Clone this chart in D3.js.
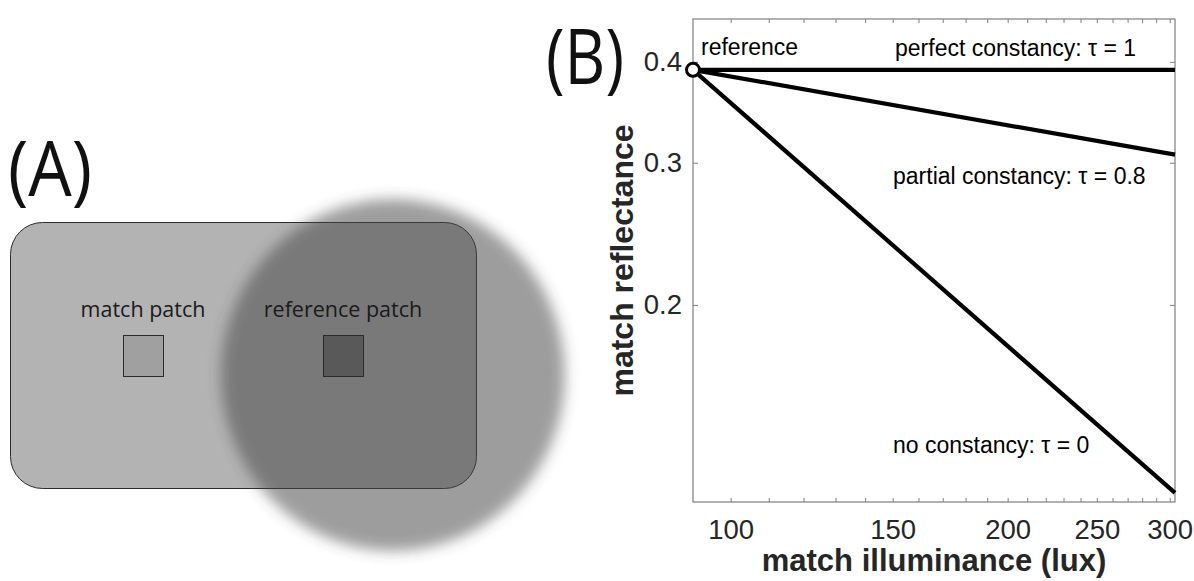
<!DOCTYPE html>
<html>
<head>
<meta charset="utf-8">
<script src="https://cdn.jsdelivr.net/npm/d3@7"></script>
<style>
  html, body { margin: 0; padding: 0; background: #fff; }
  svg { display: block; }
</style>
</head>
<body>
<svg id="fig" width="1194" height="581"></svg>
<script>
// Match illuminance (lux) at the two ends of each prediction line
const illuminance = [91, 304];
// Predicted match reflectance for each degree of constancy
const perfectConstancy = [0.391, 0.391];   // tau = 1
const partialConstancy = [0.391, 0.307];   // tau = 0.8
const noConstancy      = [0.391, 0.117];   // tau = 0
// The reference setting
const referencePoint = [91, 0.391];

const xDomain = [91, 304];
const yDomain = [0.114, 0.452];
const xTickValues = [100, 150, 200, 250, 300];
const xMinorTicks = [110, 120, 130, 140, 160, 170, 180, 190, 210, 220, 230, 240, 260, 270, 280, 290];
const yTickValues = [0.2, 0.3, 0.4];

const lineLabels = [
  { text: "perfect constancy: \u03c4 = 1",   x: 895, y: 56 },
  { text: "partial constancy: \u03c4 = 0.8", x: 893, y: 184 },
  { text: "no constancy: \u03c4 = 0",        x: 893, y: 453 }
];

const svg = d3.select("#fig");
const plotFont = "'Liberation Sans', Arial, Helvetica, sans-serif";
const sketchFont = "'Open Sans', 'Noto Sans', sans-serif";

/* ---------- Panel A: the display layout ---------- */
const defs = svg.append("defs");
defs.append("filter")
  .attr("id", "soft")
  .attr("x", "-20%").attr("y", "-20%").attr("width", "140%").attr("height", "140%")
  .append("feGaussianBlur").attr("stdDeviation", 7);

const panelA = svg.append("g");

panelA.append("text")
  .attr("x", 8).attr("y", 196)
  .attr("textLength", 84).attr("lengthAdjust", "spacingAndGlyphs")
  .style("font-family", sketchFont).style("font-size", "76px")
  .attr("fill", "#111").text("(A)");

panelA.append("rect")
  .attr("x", 10.5).attr("y", 222.5).attr("width", 466).attr("height", 266)
  .attr("rx", 32).attr("ry", 32)
  .attr("fill", "#b3b3b3").attr("stroke", "#2b2b2b").attr("stroke-width", 1);

// shadow cast over the reference side
panelA.append("ellipse")
  .attr("cx", 393).attr("cy", 375).attr("rx", 172).attr("ry", 176)
  .attr("fill", "rgb(71,71,71)").attr("fill-opacity", 0.526)
  .attr("filter", "url(#soft)");

panelA.append("rect")
  .attr("x", 123.5).attr("y", 335.5).attr("width", 40).attr("height", 41)
  .attr("fill", "#a0a0a0").attr("stroke", "#2b2b2b").attr("stroke-width", 1);
panelA.append("rect")
  .attr("x", 323.5).attr("y", 335.5).attr("width", 40).attr("height", 41)
  .attr("fill", "#595959").attr("stroke", "#2b2b2b").attr("stroke-width", 1);

panelA.append("text")
  .attr("x", 143).attr("y", 317).attr("text-anchor", "middle")
  .style("font-family", sketchFont).style("font-size", "21.5px")
  .attr("fill", "#1a1a1a").text("match patch");
panelA.append("text")
  .attr("x", 343).attr("y", 317).attr("text-anchor", "middle")
  .style("font-family", sketchFont).style("font-size", "21.5px")
  .attr("fill", "#1a1a1a").text("reference patch");

/* ---------- Panel B: predicted matches ---------- */
const plot = { left: 693, right: 1175, top: 19, bottom: 502 };

const x = d3.scaleLog().domain(xDomain).range([plot.left, plot.right]);
const y = d3.scaleLog().domain(yDomain).range([plot.bottom, plot.top]);

svg.append("text")
  .attr("x", 546).attr("y", 84)
  .attr("textLength", 78).attr("lengthAdjust", "spacingAndGlyphs")
  .style("font-family", sketchFont).style("font-size", "76px")
  .attr("fill", "#111").text("(B)");

const axisColor = "#7f7f7f";
const tickText = "#262626";

function styleAxis(g, showLabels) {
  g.select(".domain").remove();
  g.selectAll(".tick line").attr("stroke", axisColor);
  g.selectAll(".tick text")
    .style("font-family", plotFont).style("font-size", "27.5px")
    .attr("fill", tickText);
  if (!showLabels) g.selectAll(".tick text").remove();
}

// bottom axis: labelled and minor ticks, pointing inward
svg.append("g")
  .attr("transform", `translate(0,${plot.bottom})`)
  .call(d3.axisBottom(x).tickValues(xTickValues).tickFormat(d3.format("d"))
        .tickSizeInner(-4).tickSizeOuter(0).tickPadding(17))
  .call(g => styleAxis(g, true));
svg.append("g")
  .attr("transform", `translate(0,${plot.bottom})`)
  .call(d3.axisBottom(x).tickValues(xMinorTicks).tickSizeInner(-4).tickSizeOuter(0))
  .call(g => styleAxis(g, false));

// top axis mirrors the bottom ticks
svg.append("g")
  .attr("transform", `translate(0,${plot.top})`)
  .call(d3.axisTop(x).tickValues(xTickValues.concat(xMinorTicks)).tickSizeInner(-4).tickSizeOuter(0))
  .call(g => styleAxis(g, false));

// left axis
svg.append("g")
  .attr("transform", `translate(${plot.left},0)`)
  .call(d3.axisLeft(y).tickValues(yTickValues).tickFormat(d3.format(".1f"))
        .tickSizeInner(-5).tickSizeOuter(0).tickPadding(11))
  .call(g => styleAxis(g, true));

// right axis mirrors the left ticks
svg.append("g")
  .attr("transform", `translate(${plot.right},0)`)
  .call(d3.axisRight(y).tickValues(yTickValues).tickSizeInner(-5).tickSizeOuter(0))
  .call(g => styleAxis(g, false));

// box
svg.append("rect")
  .attr("x", plot.left).attr("y", plot.top)
  .attr("width", plot.right - plot.left).attr("height", plot.bottom - plot.top)
  .attr("fill", "none").attr("stroke", axisColor).attr("stroke-width", 1.2);

// prediction lines
const line = d3.line().x(d => x(d[0])).y(d => y(d[1]));
[perfectConstancy, partialConstancy, noConstancy].forEach(series => {
  svg.append("path")
    .datum(illuminance.map((e, i) => [e, series[i]]))
    .attr("d", line)
    .attr("fill", "none").attr("stroke", "#000")
    .attr("stroke-width", 4.2).attr("stroke-linecap", "butt");
});

// reference marker
svg.append("circle")
  .attr("cx", x(referencePoint[0])).attr("cy", y(referencePoint[1])).attr("r", 6.5)
  .attr("fill", "#fff").attr("stroke", "#000").attr("stroke-width", 3);

svg.append("text")
  .attr("x", 701).attr("y", 55)
  .style("font-family", plotFont).style("font-size", "23px")
  .attr("fill", "#000").text("reference");

lineLabels.forEach(d => {
  svg.append("text")
    .attr("x", d.x).attr("y", d.y)
    .style("font-family", plotFont).style("font-size", "23px")
    .attr("fill", "#000").text(d.text);
});

// axis titles
svg.append("text")
  .attr("x", (plot.left + plot.right) / 2).attr("y", 571)
  .attr("text-anchor", "middle")
  .style("font-family", plotFont).style("font-size", "31px").style("font-weight", "bold")
  .attr("fill", tickText).text("match illuminance (lux)");

svg.append("text")
  .attr("transform", `translate(633,${(plot.top + plot.bottom) / 2}) rotate(-90)`)
  .attr("text-anchor", "middle")
  .style("font-family", plotFont).style("font-size", "32px").style("font-weight", "bold")
  .attr("fill", tickText).text("match reflectance");
</script>
</body>
</html>
